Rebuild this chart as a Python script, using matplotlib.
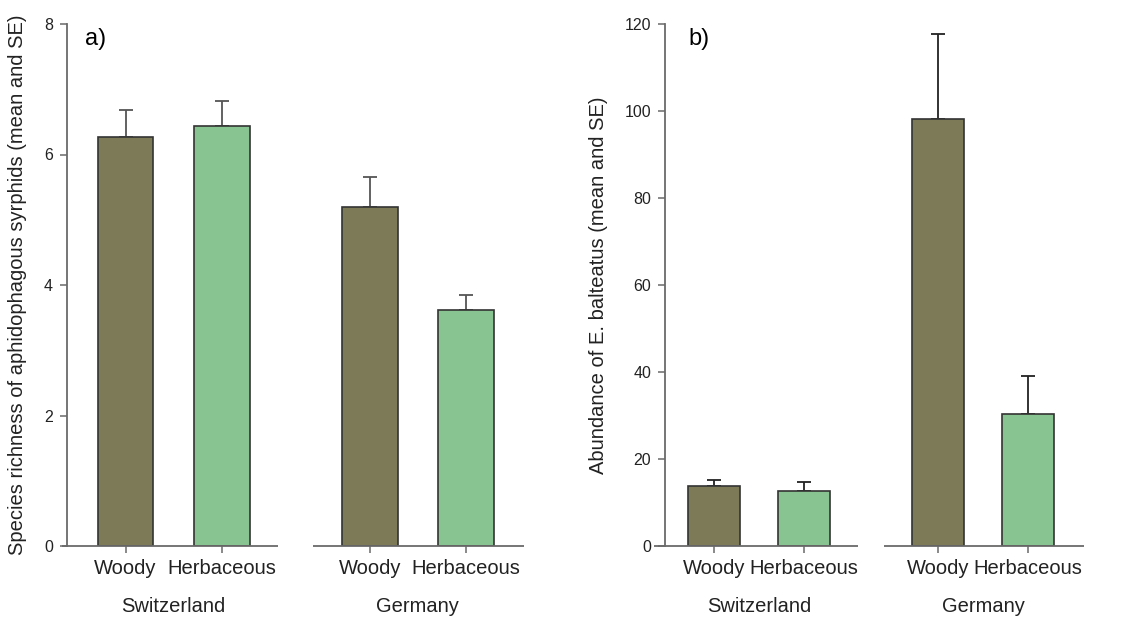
import matplotlib as mpl
mpl.use('Agg')

import matplotlib.pyplot as plt
import matplotlib.transforms as mtransforms

plt.rcParams["font.family"] = ["Liberation Sans", "DejaVu Sans"]

# data
habitats = ["Woody", "Herbaceous"]
countries = ["Switzerland", "Germany"]
richness_mean = [6.27, 6.43, 5.20, 3.62]
richness_se = [0.41, 0.39, 0.45, 0.23]
abund_mean = [13.9, 12.6, 98.1, 30.3]
abund_se = [1.3, 2.0, 19.6, 8.8]

colors = ["#7D7B57", "#88C491"]
edge = "#333333"
axcol = "#6a6a6a"

fig = plt.figure(figsize=(11.39, 6.19), dpi=100)

def panel(rect, means, ses, gap, xlim, segs, ymax, ystep, ylabel, letter,
		labx, errcol):
	ax = fig.add_axes(rect)
	xpos = [0, 1, gap, gap + 1]
	bcol = [colors[0], colors[1], colors[0], colors[1]]
	ax.errorbar(xpos, means, yerr=[[0] * 4, ses], fmt='none',
		ecolor=errcol, elinewidth=1.3, capsize=4.7, capthick=1.3, zorder=2)
	ax.bar(xpos, means, width=0.58, color=bcol, edgecolor=edge,
		linewidth=1.2, zorder=3)
	ax.set_xlim(*xlim)
	ax.set_ylim(0, ymax)
	ax.set_yticks(range(0, ymax + 1, ystep))
	ax.set_xticks(xpos)
	ax.set_xticklabels(habitats * 2, fontsize=14.5)
	ax.tick_params(axis='y', labelsize=11.5, length=5, width=1.1,
		color=axcol, pad=5)
	ax.tick_params(axis='x', length=5, width=1.1, color=axcol, pad=4)
	for s in ["top", "right", "bottom"]:
		ax.spines[s].set_visible(False)
	ax.spines["left"].set_color(axcol)
	ax.spines["left"].set_linewidth(1.3)
	# broken x axis
	for a, b in segs:
		ax.plot([a, b], [0, 0], color=axcol, lw=1.3, clip_on=False,
			solid_capstyle='butt', zorder=4)
	trans = mtransforms.blended_transform_factory(ax.transData, ax.transAxes)
	ax.text(0.5, -0.115, countries[0], transform=trans, ha='center',
		va='center', fontsize=14.5, color="#222222")
	ax.text(gap + 0.5, -0.115, countries[1], transform=trans, ha='center',
		va='center', fontsize=14.5, color="#222222")
	ax.text(labx, 0.971, letter, transform=ax.transAxes, ha='left',
		va='center', fontsize=17)
	for t in ax.get_xticklabels() + ax.get_yticklabels():
		t.set_color("#222222")
	return ax

panel([67 / 1139, 73 / 619, 457 / 1139, 522 / 619],
	richness_mean, richness_se, 2.54, (-0.61, 4.146),
	[(-0.66, 1.59), (1.95, 4.146)], 8, 2,
	"Species richness of aphidophagous syrphids (mean and SE)", "a)",
	0.039, "#555555")

panel([665 / 1139, 73 / 619, 419 / 1139, 522 / 619],
	abund_mean, abund_se, 2.49, (-0.544, 4.11),
	[(-0.667, 1.6), (1.89, 4.11)], 120, 20,
	"Abundance of E. balteatus (mean and SE)", "b)",
	0.055, "#222222")

fig.text(18 / 1139, 334 / 619,
	"Species richness of aphidophagous syrphids (mean and SE)",
	rotation=90, ha='center', va='center', fontsize=14.5, color="#222222")
fig.text(598 / 1139, 334 / 619,
	"Abundance of E. balteatus (mean and SE)",
	rotation=90, ha='center', va='center', fontsize=14.5, color="#222222")

plt.savefig("out.png", dpi=100, facecolor="white")
plt.close()
